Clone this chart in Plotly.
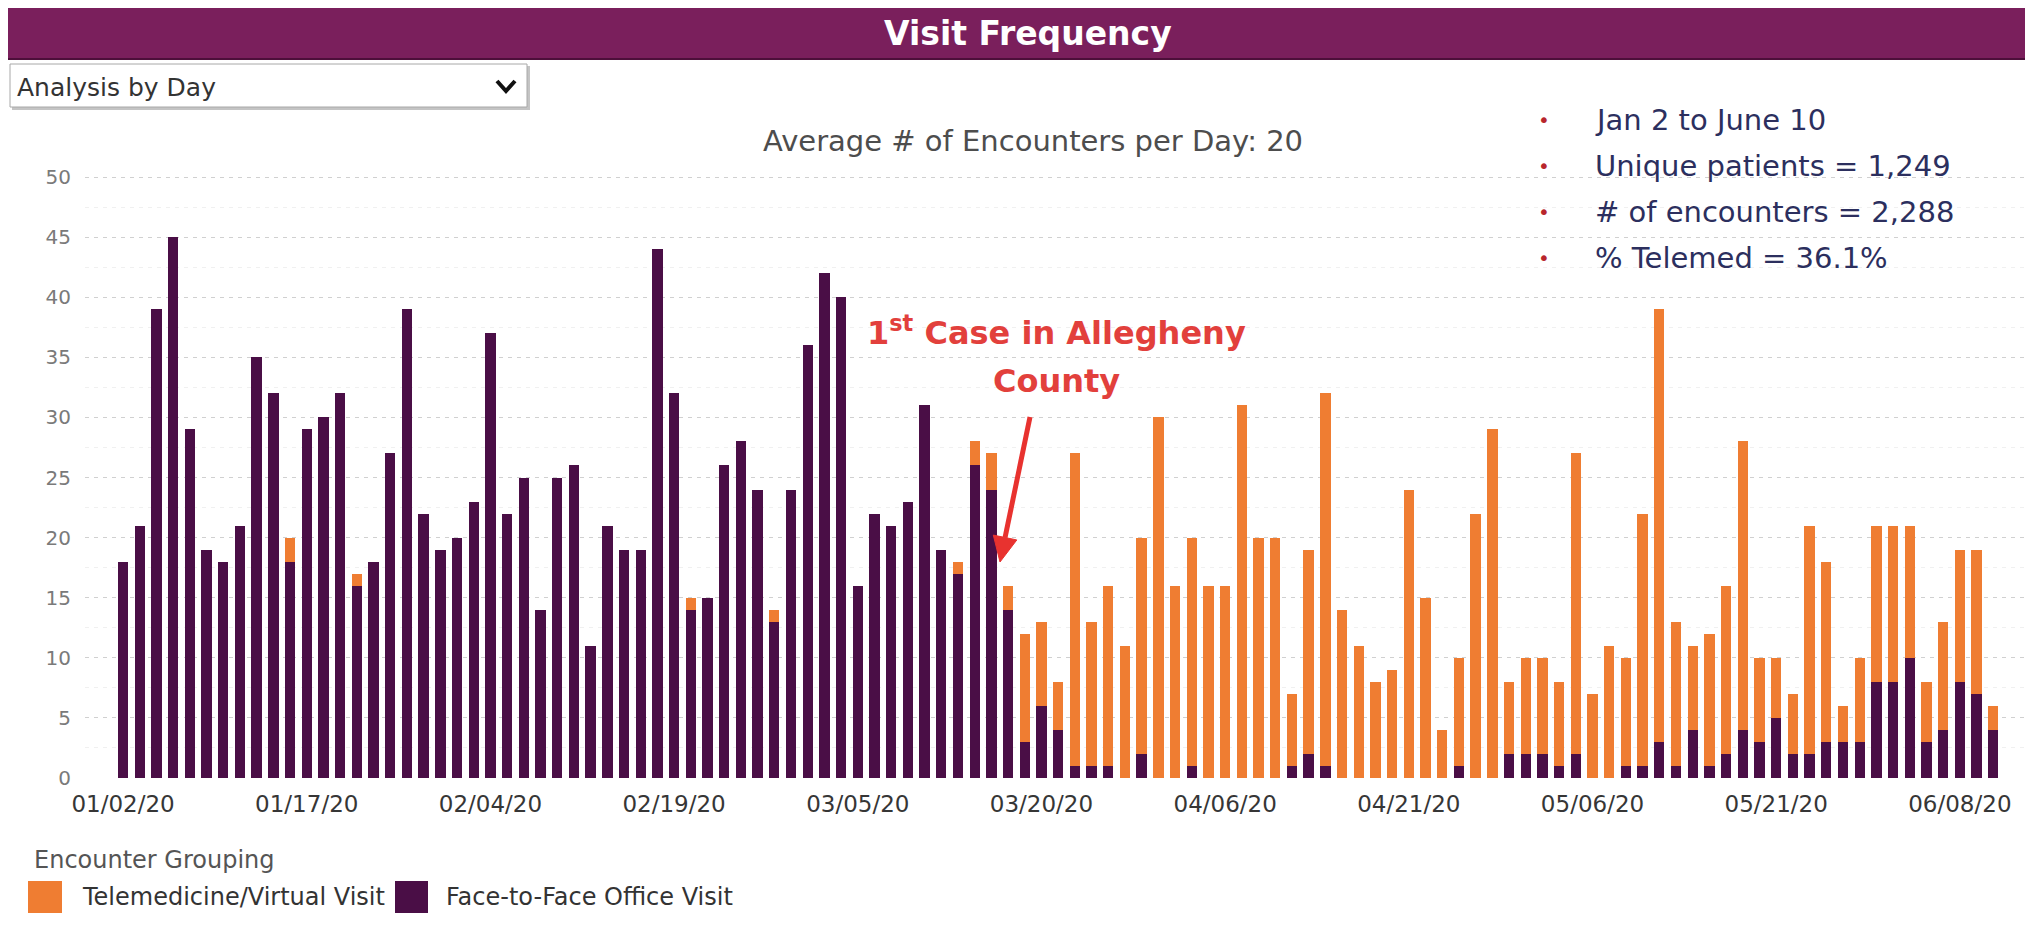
import math
import plotly.graph_objects as go

# ---------------- data ----------------
dates = [
    "01/02/20", "01/03/20", "01/06/20", "01/07/20", "01/08/20", "01/09/20", "01/10/20",
    "01/13/20", "01/14/20", "01/15/20", "01/16/20", "01/17/20",
    "01/21/20", "01/22/20", "01/23/20", "01/24/20",
    "01/27/20", "01/28/20", "01/29/20", "01/30/20", "01/31/20",
    "02/03/20", "02/04/20", "02/05/20", "02/06/20", "02/07/20",
    "02/10/20", "02/11/20", "02/12/20", "02/13/20", "02/14/20",
    "02/17/20", "02/18/20", "02/19/20", "02/20/20", "02/21/20",
    "02/24/20", "02/25/20", "02/26/20", "02/27/20", "02/28/20",
    "03/02/20", "03/03/20", "03/04/20", "03/05/20", "03/06/20",
    "03/09/20", "03/10/20", "03/11/20", "03/12/20", "03/13/20",
    "03/16/20", "03/17/20", "03/18/20", "03/19/20", "03/20/20",
    "03/23/20", "03/24/20", "03/25/20", "03/26/20", "03/27/20",
    "03/30/20", "03/31/20", "04/01/20", "04/02/20", "04/03/20",
    "04/06/20", "04/07/20", "04/08/20", "04/09/20", "04/10/20",
    "04/13/20", "04/14/20", "04/15/20", "04/16/20", "04/17/20",
    "04/20/20", "04/21/20", "04/22/20", "04/23/20", "04/24/20",
    "04/27/20", "04/28/20", "04/29/20", "04/30/20", "05/01/20",
    "05/04/20", "05/05/20", "05/06/20", "05/07/20", "05/08/20",
    "05/11/20", "05/12/20", "05/13/20", "05/14/20", "05/15/20",
    "05/18/20", "05/19/20", "05/20/20", "05/21/20", "05/22/20",
    "05/26/20", "05/27/20", "05/28/20", "05/29/20",
    "06/01/20", "06/02/20", "06/03/20", "06/04/20", "06/05/20",
    "06/08/20", "06/09/20", "06/10/20",
]

face_to_face = [
    18, 21, 39, 45, 29, 19, 18, 21, 35, 32,
    18, 29, 30, 32, 16, 18, 27, 39, 22, 19,
    20, 23, 37, 22, 25, 14, 25, 26, 11, 21,
    19, 19, 44, 32, 14, 15, 26, 28, 24, 13,
    24, 36, 42, 40, 16, 22, 21, 23, 31, 19,
    17, 26, 24, 14, 3, 6, 4, 1, 1, 1,
    0, 2, 0, 0, 1, 0, 0, 0, 0, 0,
    1, 2, 1, 0, 0, 0, 0, 0, 0, 0,
    1, 0, 0, 2, 2, 2, 1, 2, 0, 0,
    1, 1, 3, 1, 4, 1, 2, 4, 3, 5,
    2, 2, 3, 3, 3, 8, 8, 10, 3, 4,
    8, 7, 4,
]

telemedicine = [
    0, 0, 0, 0, 0, 0, 0, 0, 0, 0,
    2, 0, 0, 0, 1, 0, 0, 0, 0, 0,
    0, 0, 0, 0, 0, 0, 0, 0, 0, 0,
    0, 0, 0, 0, 1, 0, 0, 0, 0, 1,
    0, 0, 0, 0, 0, 0, 0, 0, 0, 0,
    1, 2, 3, 2, 9, 7, 4, 26, 12, 15,
    11, 18, 30, 16, 19, 16, 16, 31, 20, 20,
    6, 17, 31, 14, 11, 8, 9, 24, 15, 4,
    9, 22, 29, 6, 8, 8, 7, 25, 7, 11,
    9, 21, 36, 12, 7, 11, 14, 24, 7, 5,
    5, 19, 15, 3, 7, 13, 13, 11, 5, 9,
    11, 12, 2,
]

tick_labels = ["01/02/20", "01/17/20", "02/04/20", "02/19/20", "03/05/20", "03/20/20",
               "04/06/20", "04/21/20", "05/06/20", "05/21/20", "06/08/20"]

y_ticks = [0, 5, 10, 15, 20, 25, 30, 35, 40, 45, 50]

summary_lines = ["Jan 2 to June 10", "Unique patients = 1,249",
                 "# of encounters = 2,288", "% Telemed = 36.1%"]

legend_items = ["Telemedicine/Virtual Visit", "Face-to-Face Office Visit"]

# ---------------- styling ----------------
PURPLE = "#4a0e46"
ORANGE = "#ef7d32"
HEADER = "#7a1f5c"
RED = "#e2403c"
ARROW = "#e8322f"
NAVY = "#2c2f5e"
FONT = "DejaVu Sans"

OFF = 8                                   # default page body margin
W, H = 2033 - 2 * OFF, 930 - 2 * OFF      # figure size inside the page
L, R, T, B = 85, 2025, 173, 778           # plot area, page pixel coords
PX_PER_UNIT = 12.02


def px(x):
    return (x - L) / (R - L)


def py(y):
    return (B - y) / (B - T)


fig = go.Figure()
fig.add_bar(x=dates, y=face_to_face, name=legend_items[1],
            marker=dict(color=PURPLE, line=dict(width=0)))
fig.add_bar(x=dates, y=telemedicine, name=legend_items[0],
            marker=dict(color=ORANGE, line=dict(width=0)))

fig.update_layout(
    width=W, height=H,
    margin=dict(l=L - OFF, r=W - (R - OFF), t=T - OFF, b=H - (B - OFF), pad=0),
    barmode="stack", bargap=0.38,
    paper_bgcolor="white", plot_bgcolor="white",
    showlegend=False,
    font=dict(family=FONT),
)

fig.update_xaxes(
    type="category",
    range=[-2.28, 113.9],
    tickmode="array", tickvals=tick_labels, ticktext=tick_labels,
    showgrid=False, zeroline=False, showline=False, ticks="",
    tickfont=dict(family=FONT, size=23, color="#363636"),
    ticklabelstandoff=10,
)

fig.update_yaxes(
    range=[0, (B - T) / PX_PER_UNIT],
    tickmode="array", tickvals=y_ticks,
    showgrid=True, gridcolor="#d0d0d0", gridwidth=1, griddash="4px,5px",
    zeroline=False, showline=False, ticks="",
    tickfont=dict(family=FONT, size=20, color="#7a7a7a"),
    ticklabelstandoff=13,
    minor=dict(tickvals=[v + 2.5 for v in y_ticks[:-1]], showgrid=True,
               gridcolor="#f0f0f0", gridwidth=1),
)

shapes = []
annotations = []

# header bar
shapes.append(dict(type="rect", xref="paper", yref="paper",
                   x0=px(6), x1=px(2040), y0=py(59), y1=py(5),
                   fillcolor=HEADER, line=dict(color="#4d0f3a", width=2)))
annotations.append(dict(xref="paper", yref="paper", x=px(1028), y=py(33),
                        xanchor="center", yanchor="middle", showarrow=False,
                        text="<b>Visit Frequency</b>",
                        font=dict(family=FONT, size=33, color="white")))

# dropdown box
shapes.append(dict(type="rect", xref="paper", yref="paper",
                   x0=px(12), x1=px(530), y0=py(110), y1=py(66),
                   fillcolor="#c4c4c4", line=dict(width=0)))
shapes.append(dict(type="rect", xref="paper", yref="paper",
                   x0=px(10), x1=px(527), y0=py(107), y1=py(64),
                   fillcolor="white", line=dict(color="#a8a8a8", width=1)))
shapes.append(dict(type="path", xref="paper", yref="paper",
                   path="M {:.5f},{:.5f} L {:.5f},{:.5f} L {:.5f},{:.5f}".format(
                       px(497), py(81), px(506), py(91), px(515), py(81)),
                   line=dict(color="#111111", width=4)))
annotations.append(dict(xref="paper", yref="paper", x=px(15), y=py(87),
                        xanchor="left", yanchor="middle", showarrow=False,
                        text="Analysis by Day",
                        font=dict(family=FONT, size=25, color="#333333")))

# subtitle
annotations.append(dict(xref="paper", yref="paper", x=px(1033), y=py(141),
                        xanchor="center", yanchor="middle", showarrow=False,
                        text="Average # of Encounters per Day: 20",
                        font=dict(family=FONT, size=29, color="#4d4d4d")))

# summary bullets
for i, line in enumerate(summary_lines):
    yc = 120 + 46 * i
    annotations.append(dict(xref="paper", yref="paper", x=px(1544), y=py(yc),
                            xanchor="center", yanchor="middle", showarrow=False,
                            text="•", font=dict(family=FONT, size=20, color="#b8262c")))
    annotations.append(dict(xref="paper", yref="paper", x=px(1593), y=py(yc),
                            xanchor="left", yanchor="middle", showarrow=False,
                            text=line, font=dict(family=FONT, size=29, color=NAVY)))

# 1st case annotation
annotations.append(dict(xref="paper", yref="paper", x=px(1056), y=py(331),
                        xanchor="center", yanchor="middle", showarrow=False,
                        text="<b>1<sup>st</sup> Case in Allegheny</b>",
                        font=dict(family=FONT, size=32, color=RED)))
annotations.append(dict(xref="paper", yref="paper", x=px(1056), y=py(381),
                        xanchor="center", yanchor="middle", showarrow=False,
                        text="<b>County</b>",
                        font=dict(family=FONT, size=32, color=RED)))

# arrow drawn as a line + filled head
tail = (1030, 417)
tip = (1000, 562)
dx, dy = tip[0] - tail[0], tip[1] - tail[1]
ln = math.hypot(dx, dy)
ux, uy = dx / ln, dy / ln
nx, ny = -uy, ux
head_len, head_half = 25, 12
bx, by = tip[0] - head_len * ux, tip[1] - head_len * uy
shapes.append(dict(type="line", xref="paper", yref="paper",
                   x0=px(tail[0]), y0=py(tail[1]), x1=px(bx), y1=py(by),
                   line=dict(color=ARROW, width=5)))
shapes.append(dict(type="path", xref="paper", yref="paper",
                   path="M {:.5f},{:.5f} L {:.5f},{:.5f} L {:.5f},{:.5f} Z".format(
                       px(tip[0]), py(tip[1]),
                       px(bx + head_half * nx), py(by + head_half * ny),
                       px(bx - head_half * nx), py(by - head_half * ny)),
                   fillcolor=ARROW, line=dict(color=ARROW, width=1)))

# legend
annotations.append(dict(xref="paper", yref="paper", x=px(32), y=py(860),
                        xanchor="left", yanchor="middle", showarrow=False,
                        text="Encounter Grouping",
                        font=dict(family=FONT, size=24, color="#555555")))
legend_boxes = [(28, 62, ORANGE, 80), (395, 428, PURPLE, 444)]
for (x0, x1, col, tx), label in zip(legend_boxes, legend_items):
    shapes.append(dict(type="rect", xref="paper", yref="paper",
                       x0=px(x0), x1=px(x1), y0=py(913), y1=py(881),
                       fillcolor=col, line=dict(width=0)))
    annotations.append(dict(xref="paper", yref="paper", x=px(tx), y=py(897),
                            xanchor="left", yanchor="middle", showarrow=False,
                            text=label,
                            font=dict(family=FONT, size=24, color="#333333")))

fig.update_layout(shapes=shapes, annotations=annotations)
fig.write_html("out.html")
